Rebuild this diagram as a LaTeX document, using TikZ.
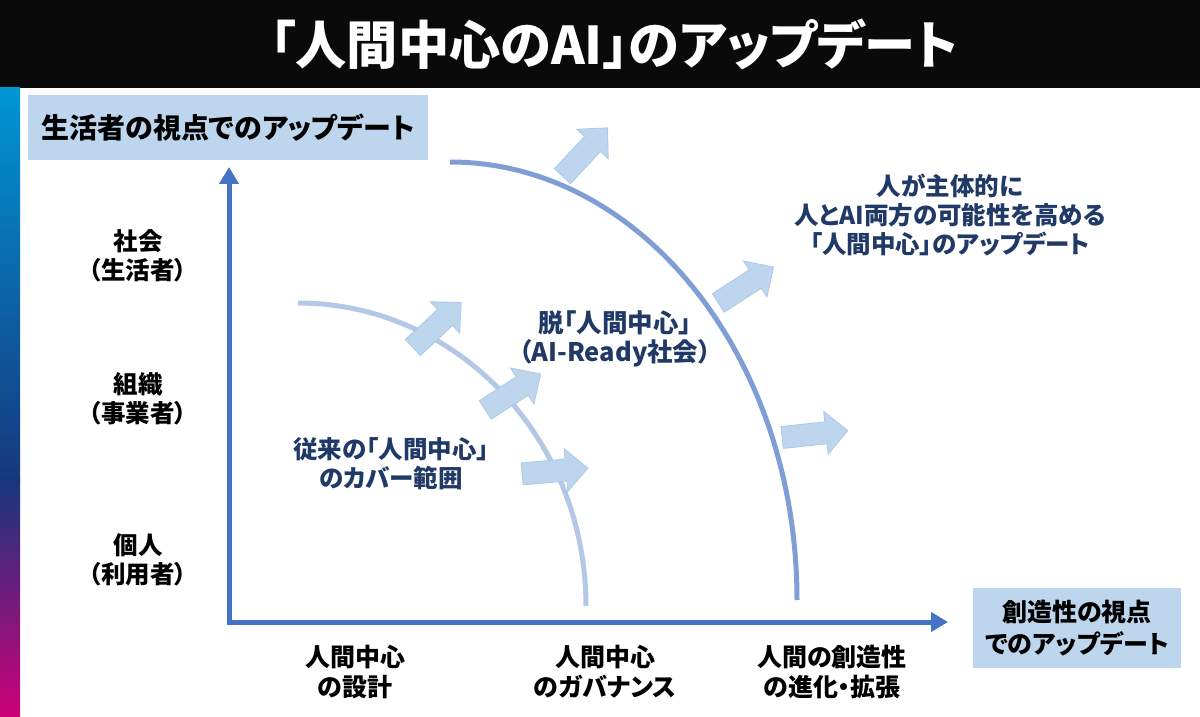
\documentclass[tikz,border=0pt]{standalone}
\usepackage{fontspec}
\usetikzlibrary{arrows.meta}
\newfontfamily\jp{Noto Sans CJK JP}[RawFeature=+palt]
\definecolor{titleblack}{RGB}{10,10,10}
\definecolor{gcyan}{RGB}{0,150,212}
\definecolor{gnavy}{RGB}{22,55,125}
\definecolor{gmag}{RGB}{205,0,120}
\definecolor{boxfill}{RGB}{190,214,237}
\definecolor{axisblue}{RGB}{68,114,196}
\definecolor{outerblue}{RGB}{128,158,214}
\definecolor{innerblue}{RGB}{180,199,231}
\definecolor{arrowfill}{RGB}{189,214,238}
\definecolor{arrowedge}{RGB}{172,200,231}
\definecolor{textnavy}{RGB}{32,57,102}
\tikzset{
  lbox/.style={fill=boxfill, inner sep=0pt, align=center, text=black,
    font=\jp\bfseries\fontsize{28}{31}\selectfont},
  lbl/.style={align=center, text=black, font=\jp\bfseries\fontsize{24.5}{29}\selectfont},
  bluelbl/.style={align=center, text=textnavy, font=\jp\bfseries\fontsize{24.5}{29}\selectfont},
  axisline/.style={draw=axisblue, line width=5pt, line join=miter},
  outerarc/.style={draw=outerblue, line width=5pt},
  innerarc/.style={draw=innerblue, line width=5pt},
  barrow/.pic={
    \filldraw[fill=arrowfill, draw=arrowedge, line width=0.8pt, line join=miter]
      (-33,-11) -- (11,-11) -- (11,-21.5) -- (33,0) -- (11,21.5) -- (11,11) -- (-33,11) -- cycle;
  }
}
\begin{document}
\begin{tikzpicture}[x=1pt,y=1pt]
\useasboundingbox (0,0) rectangle (1200,716);
\fill[white] (0,0) rectangle (1200,716);
% title bar
\fill[titleblack] (0,628) rectangle (1200,716);
\node[text=white, font=\jp\bfseries\fontsize{52}{52}\selectfont, xscale=0.985] (title) at (614,672) {「人間中心のAI」のアップデート};
% gradient bar
\shade[top color=gcyan, bottom color=gnavy] (0,236) rectangle (20,628);
\shade[top color=gnavy, bottom color=gmag] (0,0) rectangle (20,236.5);
% boxes
\node[lbox, minimum width=400pt, minimum height=65pt] (ybox) at (228,588.5) {生活者の視点でのアップデート};
\node[lbox, minimum width=208pt, minimum height=80pt, font=\jp\bfseries\fontsize{25}{32}\selectfont] (xbox) at (1077,88) {創造性の視点\\でのアップデート};
% arcs
\coordinate (oa) at (450,554);
\coordinate (ia) at (298,413);
\draw[outerarc] (oa) arc[start angle=90, end angle=0, x radius=347, y radius=438];
\draw[innerarc] (ia) arc[start angle=90, end angle=0, x radius=288, y radius=303];
% axes
\coordinate (origin) at (229,94);
\coordinate (ytip) at (229,549);
\coordinate (xtip) at (948,94);
\draw[axisline, {Triangle[length=17pt,width=19pt]}-{Triangle[length=17pt,width=19pt]}] (ytip) -- (origin) -- (xtip);
% block arrows
\pic[rotate=47] (a1) at (585,564) {barrow};
\pic[rotate=43] (a2) at (437,391) {barrow};
\pic[rotate=33] (a3) at (513,324) {barrow};
\pic[rotate=5] (a4) at (555,245) {barrow};
\pic[rotate=33] (a5) at (746,431) {barrow};
\pic[rotate=6] (a6) at (815,282) {barrow};
% left labels
\node[lbl] (l1) at (138,460) {社会\\（生活者）};
\node[lbl] (l2) at (138,317) {組織\\（事業者）};
\node[lbl] (l3) at (138,156) {個人\\（利用者）};
% bottom labels
\node[lbl, font=\jp\bfseries\fontsize{25}{30}\selectfont] (b1) at (355,44) {人間中心\\の設計};
\node[lbl, font=\jp\bfseries\fontsize{25}{30}\selectfont] (b2) at (605,44) {人間中心\\のガバナンス};
\node[lbl, font=\jp\bfseries\fontsize{25}{30}\selectfont] (b3) at (832,44) {人間の創造性\\の進化・拡張};
% blue labels
\node[bluelbl] (t1) at (950,501) {人が主体的に\\人とAI両方の可能性を高める\\「人間中心」のアップデート};
\node[bluelbl, font=\jp\bfseries\fontsize{25.5}{29}\selectfont] (t2) at (615,377) {脱「人間中心」\\（AI-Ready社会）};
\node[bluelbl] (t3) at (391,252) {従来の「人間中心」\\のカバー範囲};
\end{tikzpicture}
\end{document}
